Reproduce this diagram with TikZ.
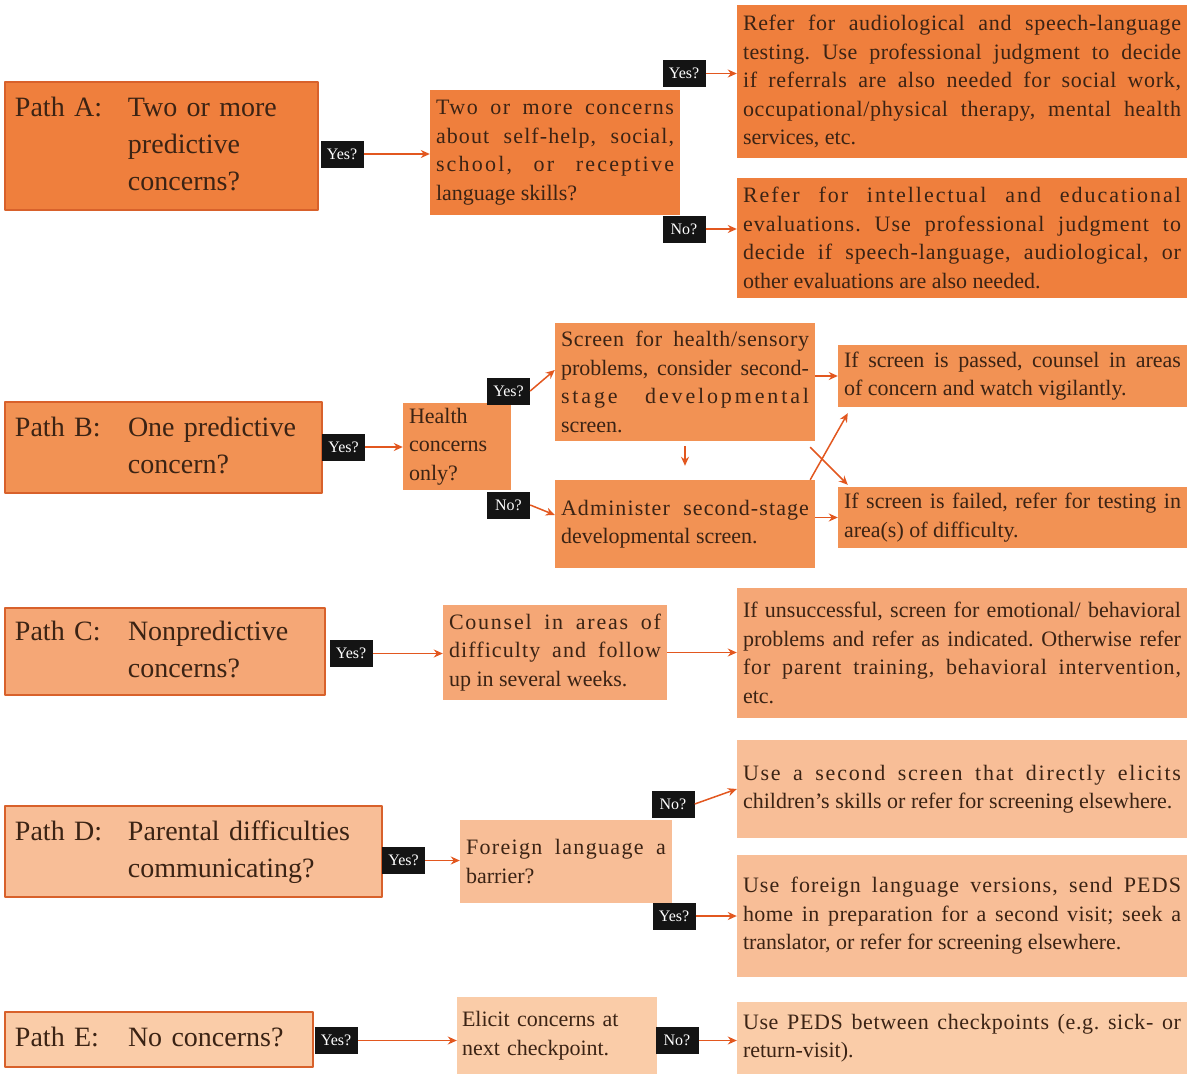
\documentclass[tikz,border=0pt]{standalone}
\usepackage{fontspec}
\setmainfont{Liberation Serif}
\usetikzlibrary{arrows.meta}

\definecolor{ink}{HTML}{3B2314}
\definecolor{rowA}{HTML}{EF7F3D}
\definecolor{rowB}{HTML}{F29254}
\definecolor{rowC}{HTML}{F5A776}
\definecolor{rowD}{HTML}{F8BE97}
\definecolor{rowE}{HTML}{FACCA8}
\definecolor{rim}{HTML}{D8612B}
\definecolor{flow}{HTML}{E2571F}

\newcommand{\pathfont}{\fontsize{28}{37}\selectfont}
\newcommand{\boxfont}{\fontsize{22}{28.5}\selectfont}
\newcommand{\tagfont}{\fontsize{16}{18}\selectfont}
% letter-spaced line
\newcommand{\ls}[2]{{\addfontfeature{LetterSpace=#1}#2}}
\tolerance=10000
\hyphenpenalty=10000
\frenchspacing

\begin{document}
\begin{tikzpicture}[x=1pt, y=-1pt, line join=round,
  pathbox/.style={rectangle, draw=rim, line width=1.4pt, inner xsep=10pt, inner ysep=0pt, text=ink, font=\pathfont, align=left},
  box/.style={rectangle, inner xsep=6pt, inner ysep=0pt, text=ink, font=\boxfont, align=justify},
  tag/.style={rectangle, fill=black!92, text=white, font=\tagfont, minimum width=43pt, minimum height=27pt, inner sep=0pt},
  go/.style={draw=flow, line width=1.5pt, -{Stealth[length=9pt, width=8pt]}}]
\useasboundingbox (0,0) rectangle (1187,1076);

% Path A
\node[pathbox, fill=rowA, text width=293pt, minimum height=128pt] (pa) at (161.5,146)
  {\begin{tabular}{@{}p{113pt}@{}l@{}}Path A: & Two or more\\ & predictive\\ & concerns?\end{tabular}};
\node[tag] (pay) at (342,154) {Yes?};
\node[box, fill=rowA, text width=238pt, minimum height=125pt] (aq) at (555,152.5)
  {\ls{7}{Two or more concerns}\linebreak \ls{5}{about self-help, social,}\linebreak \ls{10}{school, or receptive}\linebreak language skills?};
\node[tag] (aqy) at (684,73.5) {Yes?};
\node[tag] (aqn) at (684,229) {No?};
\node[box, fill=rowA, text width=438pt, minimum height=153pt] (ayes) at (962,81.5)
  {\ls{3}{Refer for audiological and speech-language}\linebreak \ls{2}{testing. Use professional judgment to decide}\linebreak \ls{3}{if referrals are also needed for social work,}\linebreak \ls{3}{occupational/physical therapy, mental health}\linebreak services, etc.};
\node[box, fill=rowA, text width=438pt, minimum height=120pt] (ano) at (962,238)
  {\ls{9}{Refer for intellectual and educational}\linebreak \ls{5}{evaluations. Use professional judgment to}\linebreak \ls{4}{decide if speech-language, audiological, or}\linebreak other evaluations are also needed.};
\draw[go] (pay.east) -- (pay.east -| aq.west);
\draw[go] (aqy.east) -- (aqy.east -| ayes.west);
\draw[go] (aqn.east) -- (aqn.east -| ano.west);

% Path B
\node[pathbox, fill=rowB, text width=297pt, minimum height=91pt] (pb) at (163.5,447.5)
  {\begin{tabular}{@{}p{113pt}@{}l@{}}Path B: & One predictive\\ & concern?\end{tabular}};
\node[tag] (pby) at (343.5,447) {Yes?};
\node[box, fill=rowB, text width=96pt, align=left, minimum height=87pt] (bh) at (457,446.5)
  {Health\\concerns\\only?};
\node[tag] (bhy) at (508.5,391) {Yes?};
\node[tag] (bhn) at (508.5,505) {No?};
\node[box, fill=rowB, text width=248pt, minimum height=118pt] (bscr) at (685,382)
  {\ls{3}{Screen for health/sensory}\linebreak problems, consider second-\linebreak \ls{13}{stage developmental}\linebreak screen.};
\node[box, fill=rowB, text width=248pt, minimum height=88pt] (badm) at (685,524)
  {\ls{5}{Administer second-stage}\linebreak developmental screen.};
\node[box, fill=rowB, text width=337pt, minimum height=62pt] (bpas) at (1012.5,376)
  {If screen is passed, counsel in areas\linebreak of concern and watch vigilantly.};
\node[box, fill=rowB, text width=337pt, minimum height=61pt] (bfal) at (1012.5,517.5)
  {If screen is failed, refer for testing in\linebreak area(s) of difficulty.};
\draw[go] (pby.east) -- (pby.east -| bh.west);
\draw[go] (bhy.east) -- ([yshift=12pt]bscr.west);
\draw[go] (bhn.east) -- ([yshift=9pt]badm.west);
\draw[go] ([yshift=-5pt]bscr.south) -- ([yshift=14pt]badm.north);
\draw[go] (bscr.east |- bpas.west) -- (bpas.west);
\draw[go] (badm.east |- bfal.west) -- (bfal.west);
\draw[go] ([xshift=-5pt]badm.north east) -- ([xshift=10pt,yshift=-6pt]bpas.south west);
\draw[go] ([xshift=-5pt,yshift=-6pt]bscr.south east) -- ([xshift=10pt,yshift=2pt]bfal.north west);

% Path C
\node[pathbox, fill=rowC, text width=300pt, minimum height=87pt] (pc) at (165,651.5)
  {\begin{tabular}{@{}p{113pt}@{}l@{}}Path C: & Nonpredictive\\ & concerns?\end{tabular}};
\node[tag] (pcy) at (351,653.5) {Yes?};
\node[box, fill=rowC, text width=212pt, minimum height=95pt] (cc) at (555,652.5)
  {\ls{8}{Counsel in areas of}\linebreak \ls{5}{difficulty and follow}\linebreak up in several weeks.};
\node[box, fill=rowC, text width=438pt, minimum height=130pt] (cres) at (962,653)
  {If unsuccessful, screen for emotional/ behavioral\linebreak problems and refer as indicated. Otherwise refer\linebreak \ls{4}{for parent training, behavioral intervention,}\linebreak etc.};
\draw[go] (pcy.east) -- (pcy.east -| cc.west);
\draw[go] (cc.east) -- (cc.east -| cres.west);

% Path D
\node[pathbox, fill=rowD, text width=357pt, minimum height=91pt] (pd) at (193.5,851.5)
  {\begin{tabular}{@{}p{113pt}@{}l@{}}Path D: & Parental difficulties\\ & communicating?\end{tabular}};
\node[tag] (pdy) at (403.5,860.5) {Yes?};
\node[box, fill=rowD, text width=200pt, minimum height=83pt] (df) at (566,861.5)
  {\ls{6}{Foreign language a}\linebreak barrier?};
\node[tag] (dfn) at (673,804) {No?};
\node[tag] (dfy) at (674,916) {Yes?};
\node[box, fill=rowD, text width=438pt, minimum height=98pt] (dno) at (962,789)
  {\ls{8}{Use a second screen that directly elicits}\linebreak children's skills or refer for screening elsewhere.};
\node[box, fill=rowD, text width=438pt, minimum height=122pt] (dyes) at (962,916)
  {\ls{5}{Use foreign language versions, send PEDS}\linebreak \ls{2}{home in preparation for a second visit; seek a}\linebreak translator, or refer for screening elsewhere.};
\draw[go] (pdy.east) -- (pdy.east -| df.west);
\draw[go] (dfn.east) -- (dno.west);
\draw[go] (dfy.east) -- (dfy.east -| dyes.west);

% Path E
\node[pathbox, fill=rowE, text width=288pt, minimum height=55pt] (pe) at (159,1039.5)
  {\begin{tabular}{@{}p{113pt}@{}l@{}}Path E: & No concerns?\end{tabular}};
\node[tag] (pey) at (336,1040.5) {Yes?};
\node[box, fill=rowE, text width=190pt, inner xsep=5pt, align=left, minimum height=77pt] (ee) at (557,1035.5)
  {Elicit concerns at\\next checkpoint.};
\node[tag] (een) at (677,1040.5) {No?};
\node[box, fill=rowE, text width=438pt, minimum height=72pt] (eres) at (962,1038)
  {\ls{3}{Use PEDS between checkpoints (e.g. sick- or}\linebreak return-visit).};
\draw[go] (pey.east) -- (pey.east -| ee.west);
\draw[go] (een.east) -- (een.east -| eres.west);
\end{tikzpicture}
\end{document}
